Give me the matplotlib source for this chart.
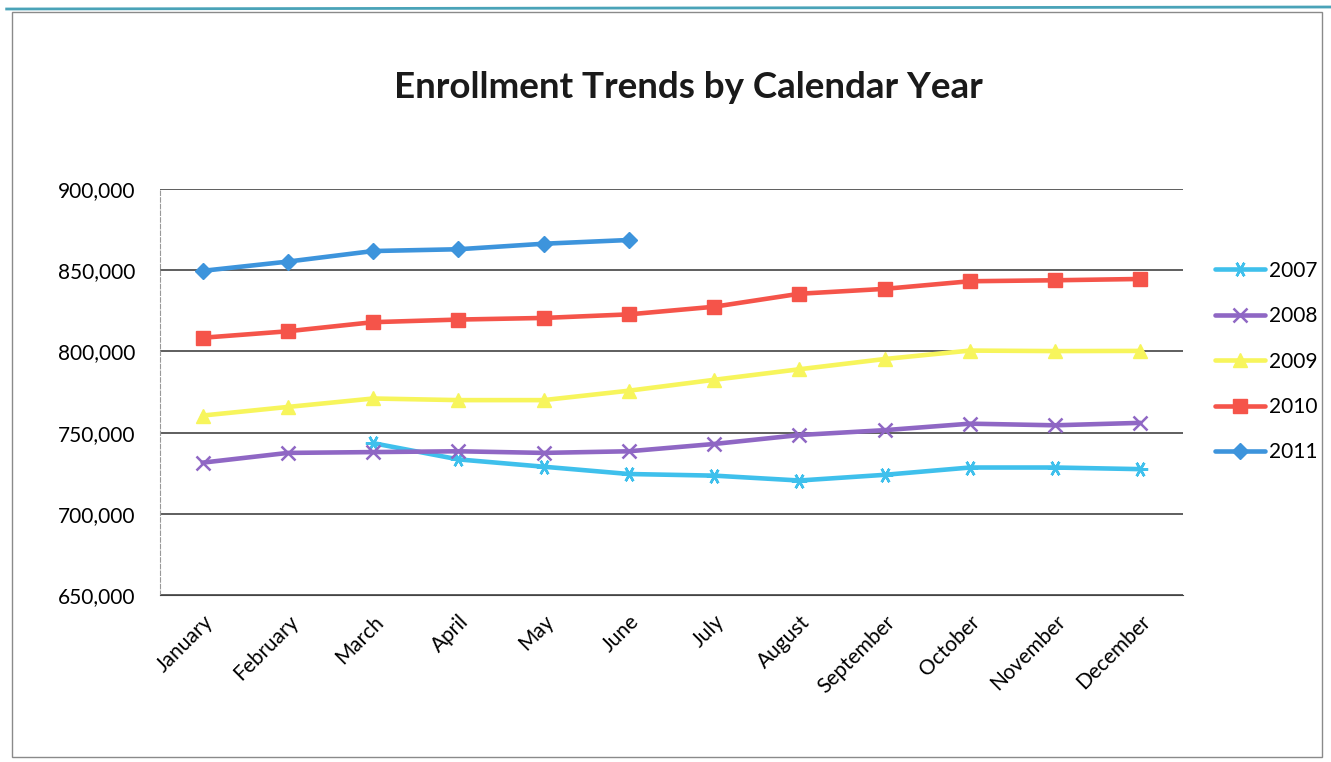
import matplotlib.pyplot as plt
from matplotlib.patches import Rectangle
from matplotlib.lines import Line2D
from matplotlib.ticker import FuncFormatter

months = ['January', 'February', 'March', 'April', 'May', 'June', 'July',
          'August', 'September', 'October', 'November', 'December']

# enrollment per month, None where the year has no value
y2007 = [None, None, 743500, 733500, 729000, 724500, 723500, 720500,
         724000, 728500, 728500, 727500]
y2008 = [731500, 737500, 738000, 738500, 737500, 738500, 743000, 748500,
         751500, 755500, 754500, 756000]
y2009 = [760500, 765800, 771000, 770000, 770000, 775800, 782500, 789000,
         795300, 800500, 800200, 800300]
y2010 = [808400, 812400, 818000, 819600, 820600, 822800, 827500, 835500,
         838500, 843200, 843800, 844600]
y2011 = [849600, 855300, 861800, 862900, 866300, 868600]

series = [
    ('2007', y2007, '#3fc0ec', (6, 2, 90), 11),
    ('2008', y2008, '#8f67c4', 'x', 10),
    ('2009', y2009, '#f7f55c', '^', 10),
    ('2010', y2010, '#f5544a', 's', 10),
    ('2011', y2011, '#3d94dc', 'D', 8.5),
]

plt.rcParams['font.family'] = ['Lato', 'DejaVu Sans']

fig = plt.figure(figsize=(13.31, 7.62), dpi=100)
fig.patch.set_facecolor('white')

# outer chart frame and the teal line along the top
fig.add_artist(Rectangle((12 / 1331, 5 / 762), 1310 / 1331, 745 / 762,
                         transform=fig.transFigure, fill=False,
                         edgecolor='#8a8a8a', linewidth=1.0))
fig.add_artist(Line2D([0.005, 1.0], [1 - 9 / 762, 1 - 7 / 762],
                      transform=fig.transFigure, color='#4aa3b8', linewidth=2))

ax = fig.add_axes([160 / 1331, 1 - 595 / 762, 1023 / 1331, 406 / 762])

x = list(range(len(months)))
handles = []
for name, vals, color, marker, ms in series:
    xs = x[:len(vals)]
    xv = [a for a, v in zip(xs, vals) if v is not None]
    yv = [v for v in vals if v is not None]
    mew = 1.8 if marker in ('x',) or isinstance(marker, tuple) else 1
    h, = ax.plot(xv, yv, color=color, linewidth=3.3, marker=marker,
                 markersize=ms, markeredgewidth=mew, markeredgecolor=color,
                 label=name, solid_capstyle='round')
    handles.append(h)

ax.set_xlim(-0.5, 11.5)
ax.set_ylim(650000, 900000)
ax.set_yticks(range(650000, 900001, 50000))
ax.yaxis.set_major_formatter(FuncFormatter(lambda v, p: f'{int(v):,}'))
ax.set_xticks(x)
ax.set_xticklabels(months, rotation=45, ha='right', rotation_mode='anchor',
                   fontsize=15)
ax.tick_params(axis='y', labelsize=15, length=0, pad=18)
ax.tick_params(axis='x', length=0, pad=12)

ax.grid(axis='y', color='#333333', linewidth=1.1)
ax.set_axisbelow(True)
for side in ('top', 'right'):
    ax.spines[side].set_visible(False)
ax.spines['left'].set_color('#999999')
ax.spines['left'].set_linestyle((0, (4, 2)))
ax.spines['bottom'].set_color('#444444')

fig.text(0.517, 1 - 87 / 762, 'Enrollment Trends by Calendar Year',
         ha='center', va='center', fontsize=26.5, fontweight='bold',
         color='#1a1a1a')

fig.legend(handles=handles, loc='upper left',
           bbox_to_anchor=(1196 / 1331, 1 - 242 / 762), frameon=False,
           fontsize=15, handlelength=2.4, labelspacing=1.22,
           handletextpad=0.2)

fig.savefig('out.png', dpi=100, facecolor='white')
